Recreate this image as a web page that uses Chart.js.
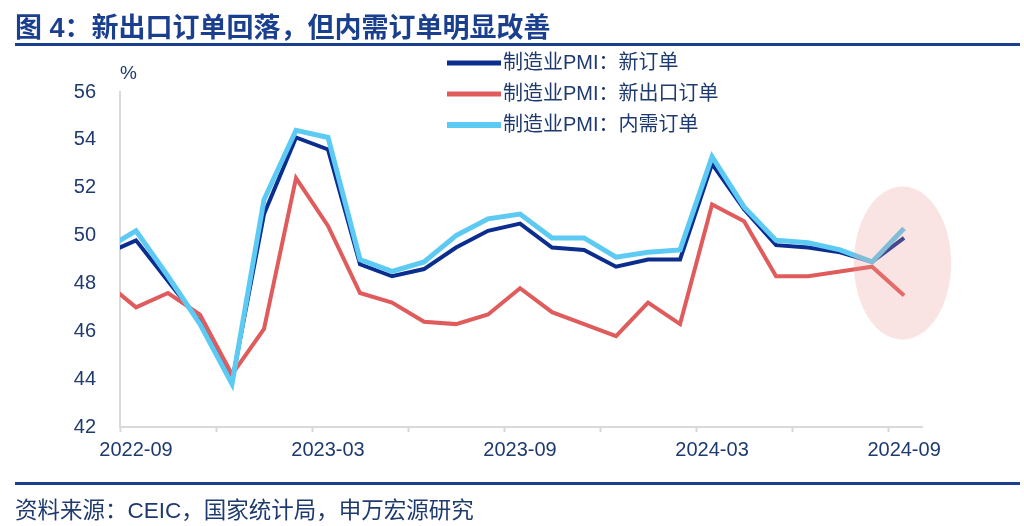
<!DOCTYPE html>
<html>
<head>
<meta charset="utf-8">
<script src="https://cdn.jsdelivr.net/npm/chart.js@4.4.1/dist/chart.umd.min.js"></script>
<style>
body { margin: 0; background: #fff; font-family: "Liberation Sans", "Noto Sans CJK SC", sans-serif; }
#wrap { position: relative; width: 1024px; height: 526px; overflow: hidden; }
#title { position: absolute; left: 15px; top: 6px; font-size: 27px; font-weight: bold; color: #1b3f8f; white-space: nowrap; }
.rule { position: absolute; left: 15px; width: 1005px; height: 3px; background: #1b3f8f; }
#source { position: absolute; left: 15px; top: 492px; font-size: 22.5px; color: #1f3a6e; white-space: nowrap; }
canvas { position: absolute; left: 0; top: 0; }
</style>
</head>
<body>
<div id="wrap">
  <canvas id="chart_out" width="1024" height="526"></canvas>
  <div id="title">图 4：新出口订单回落，但内需订单明显改善</div>
  <div class="rule" style="top:43px"></div>
  <div class="rule" style="top:482px"></div>
  <div id="source">资料来源：CEIC，国家统计局，申万宏源研究</div>
</div>
<script>
// monthly data, 2022-08 is only partly visible (cut at the y axis)
var months = ['2022-08', '2022-09', '2022-10', '2022-11', '2022-12', '2023-01', '2023-02', '2023-03', '2023-04',
  '2023-05', '2023-06', '2023-07', '2023-08', '2023-09', '2023-10', '2023-11', '2023-12', '2024-01', '2024-02',
  '2024-03', '2024-04', '2024-05', '2024-06', '2024-07', '2024-08', '2024-09'];
var newOrders = [49.2, 49.8, 48.1, 46.4, 43.9, 50.9, 54.1, 53.6, 48.8, 48.3, 48.6, 49.5, 50.2,
  50.5, 49.5, 49.4, 48.7, 49.0, 49.0, 53.0, 51.1, 49.6, 49.5, 49.3, 48.9, 49.9];
var exportOrders = [48.1, 47.0, 47.6, 46.7, 44.2, 46.1, 52.4, 50.4, 47.6, 47.2, 46.4, 46.3, 46.7,
  47.8, 46.8, 46.3, 45.8, 47.2, 46.3, 51.3, 50.6, 48.3, 48.3, 48.5, 48.7, 47.5];
var domesticOrders = [49.4, 50.2, 48.3, 46.3, 43.8, 51.5, 54.4, 54.1, 49.0, 48.5, 48.9, 50.0, 50.7,
  50.9, 49.9, 49.9, 49.1, 49.3, 49.4, 53.3, 51.2, 49.8, 49.7, 49.4, 48.9, 50.3];
var tickLabels = ['2022-09', '2023-03', '2023-09', '2024-03', '2024-09'];
var seriesNames = ['制造业PMI：新订单', '制造业PMI：新出口订单', '制造业PMI：内需订单'];
var colors = ['#0b2d8e', '#e05c5c', '#5ccaf2'];

var textColor = '#1f3a6e';
var font = '"Liberation Sans", "Noto Sans CJK SC", sans-serif';

function toPoints(arr) {
  return arr.map(function (v, i) { return { x: i - 1, y: v }; });
}

// legend drawn in the upper part of the plot, like the original
var legendPlugin = {
  id: 'topLegend',
  afterDraw: function (chart) {
    var ctx = chart.ctx;
    ctx.save();
    ctx.font = '20px ' + font;
    ctx.textBaseline = 'middle';
    for (var i = 0; i < seriesNames.length; i++) {
      var y = 63 + i * 31;
      ctx.strokeStyle = colors[i];
      ctx.lineWidth = i === 2 ? 6 : 5;
      ctx.beginPath();
      ctx.moveTo(447, y);
      ctx.lineTo(501, y);
      ctx.stroke();
      ctx.fillStyle = textColor;
      ctx.fillText(seriesNames[i], 503, y);
    }
    // unit label above the y axis
    ctx.font = '19px ' + font;
    ctx.fillText('%', chart.chartArea.left, chart.chartArea.top - 18);
    ctx.restore();
  }
};

// pink ellipse marking the latest month
var ellipsePlugin = {
  id: 'highlight',
  afterDatasetsDraw: function (chart) {
    var xs = chart.scales.x, ys = chart.scales.y;
    var cx = xs.getPixelForValue(23.95), cy = ys.getPixelForValue(48.85);
    var rx = xs.getPixelForValue(1.52) - xs.getPixelForValue(0);
    var ry = ys.getPixelForValue(45.8) - ys.getPixelForValue(49);
    var ctx = chart.ctx;
    ctx.save();
    ctx.fillStyle = 'rgba(236, 150, 145, 0.26)';
    ctx.beginPath();
    ctx.ellipse(cx, cy, rx, ry, 0, 0, Math.PI * 2);
    ctx.fill();
    ctx.restore();
  }
};

var ctx = document.getElementById('chart_out').getContext('2d');
var chart = new Chart(ctx, {
  type: 'line',
  data: {
    datasets: [
      { label: seriesNames[0], data: toPoints(newOrders), borderColor: colors[0], borderWidth: 4, order: 2 },
      { label: seriesNames[1], data: toPoints(exportOrders), borderColor: colors[1], borderWidth: 4, order: 1 },
      { label: seriesNames[2], data: toPoints(domesticOrders), borderColor: colors[2], borderWidth: 5, order: 0 }
    ]
  },
  options: {
    responsive: false,
    animation: false,
    clip: { left: 0, top: false, right: false, bottom: false },
    elements: { point: { radius: 0 }, line: { tension: 0 } },
    layout: { padding: { left: 0, top: 92, right: 102, bottom: 59 } },
    plugins: { legend: { display: false }, tooltip: { enabled: false } },
    scales: {
      x: {
        type: 'linear',
        min: -0.5,
        max: 24.56,
        afterBuildTicks: function (scale) {
          var t = [];
          for (var v = -0.5; v < 24.5; v += 3) t.push(v);
          tickLabels.forEach(function (l) { t.push(months.indexOf(l) - 1); });
          t.sort(function (a, b) { return a - b; });
          scale.ticks = t.map(function (v) { return { value: v }; });
        },
        afterFit: function (scale) { scale.height = 40; },
        border: { color: '#d9d9d9', width: 2 },
        grid: {
          drawOnChartArea: false,
          tickLength: 5,
          tickWidth: 2,
          tickColor: function (c) {
            if (!c.tick) return '#d9d9d9';
            return Number.isInteger(c.tick.value) ? 'rgba(0,0,0,0)' : '#d9d9d9';
          }
        },
        ticks: {
          autoSkip: false,
          maxRotation: 0,
          padding: 6,
          color: textColor,
          font: { family: font, size: 20 },
          callback: function (value) {
            return Number.isInteger(value) ? months[value + 1] : '';
          }
        }
      },
      y: {
        min: 42,
        max: 56,
        afterFit: function (scale) { scale.width = 120; },
        border: { color: '#d9d9d9', width: 2 },
        grid: { drawOnChartArea: false, drawTicks: false },
        ticks: {
          stepSize: 2,
          padding: 24,
          color: textColor,
          font: { family: font, size: 20 }
        }
      }
    }
  },
  plugins: [ellipsePlugin, legendPlugin]
});
</script>
</body>
</html>
